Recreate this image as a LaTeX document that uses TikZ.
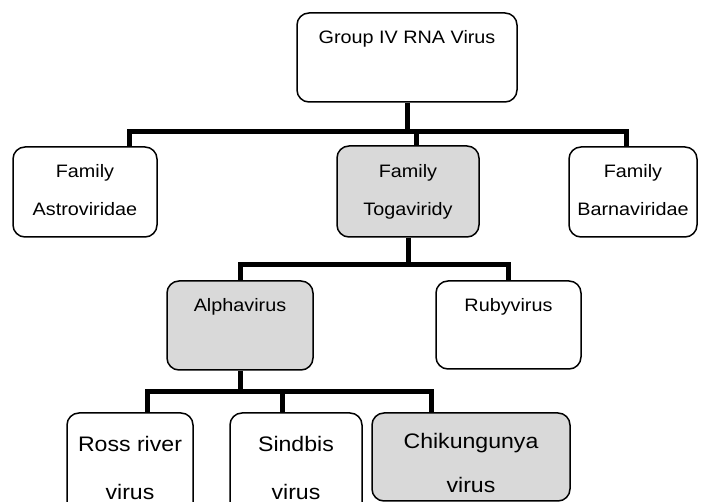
\documentclass[tikz,border=0pt]{standalone}
\usepackage{fontspec}
\newfontfamily\lblfont{Liberation Sans}[FakeStretch=1.1]
\definecolor{boxgray}{HTML}{D9D9D9}
\tikzset{
  vbox/.style={draw=black, line width=1.5pt, rounded corners=12pt, inner sep=0pt, fill=white},
  gbox/.style={vbox, fill=boxgray},
  bar/.style={line width=5pt, line join=miter, line cap=butt},
  lbl/.style={font=\lblfont\fontsize{18}{22}\selectfont, inner sep=0pt, anchor=base},
  lblb/.style={font=\lblfont\fontsize{21}{25}\selectfont, inner sep=0pt, anchor=base},
}
\begin{document}
\begin{tikzpicture}[x=1pt,y=-1pt]
\useasboundingbox (0,0) rectangle (705,502);
\clip (0,0) rectangle (705,502);
% boxes
\node[vbox, minimum width=220pt, minimum height=89pt] (top) at (407,57.5) {};
\node[vbox, minimum width=144pt, minimum height=90pt] (astro) at (85,192) {};
\node[gbox, minimum width=142pt, minimum height=91pt] (toga) at (408,191.5) {};
\node[vbox, minimum width=128pt, minimum height=90pt] (barna) at (633,192) {};
\node[gbox, minimum width=146pt, minimum height=89pt] (alpha) at (240,325.5) {};
\node[vbox, minimum width=145pt, minimum height=88pt] (ruby) at (508.5,325) {};
\node[vbox, minimum width=126pt, minimum height=102pt] (ross) at (130,464) {};
\node[vbox, minimum width=132pt, minimum height=102pt] (sind) at (296,464) {};
\node[gbox, minimum width=198pt, minimum height=88pt] (chik) at (471,457) {};
% labels
\node[lbl] (ttop) at (407,43.3) {Group IV RNA Virus};
\node[lbl] (tastro1) at (85,177.5) {Family};
\node[lbl] (tastro2) at (85,215.5) {Astroviridae};
\node[lbl] (ttoga1) at (408,177.5) {Family};
\node[lbl] (ttoga2) at (408,215.5) {Togaviridy};
\node[lbl] (tbarna1) at (633,177.5) {Family};
\node[lbl] (tbarna2) at (633,215.5) {Barnaviridae};
\node[lbl] (talpha) at (240,311.7) {Alphavirus};
\node[lbl] (truby) at (508.5,311.7) {Rubyvirus};
\node[lblb] (tross1) at (130,451.7) {Ross river};
\node[lblb] (tross2) at (130,500) {virus};
\node[lblb] (tsind1) at (296,451.7) {Sindbis};
\node[lblb] (tsind2) at (296,500) {virus};
\node[lblb] (tchik1) at (471,448.3) {Chikungunya};
\node[lblb] (tchik2) at (471,493) {virus};
% connectors level 1
\coordinate (s1) at (407,132);
\coordinate (b1L) at (129,132);
\coordinate (b1R) at (626,132);
\coordinate (t1) at (416,132);
\draw[bar] (top.south -| s1) -- (s1);
\draw[bar] (astro.north -| b1L) -- (b1L) -- (b1R) -- (barna.north -| b1R);
\draw[bar] (t1) -- (toga.north -| t1);
% level 2
\coordinate (s2) at (408,265);
\coordinate (b2L) at (240,265);
\coordinate (b2R) at (508,265);
\draw[bar] (toga.south -| s2) -- (s2);
\draw[bar] (alpha.north -| b2L) -- (b2L) -- (b2R) -- (ruby.north -| b2R);
% level 3
\coordinate (s3) at (240,392);
\coordinate (b3L) at (147,392);
\coordinate (b3M) at (282,392);
\coordinate (b3R) at (431,392);
\draw[bar] (alpha.south -| s3) -- (s3);
\draw[bar] (ross.north -| b3L) -- (b3L) -- (b3R) -- (chik.north -| b3R);
\draw[bar] (b3M) -- (sind.north -| b3M);
\end{tikzpicture}
\end{document}
